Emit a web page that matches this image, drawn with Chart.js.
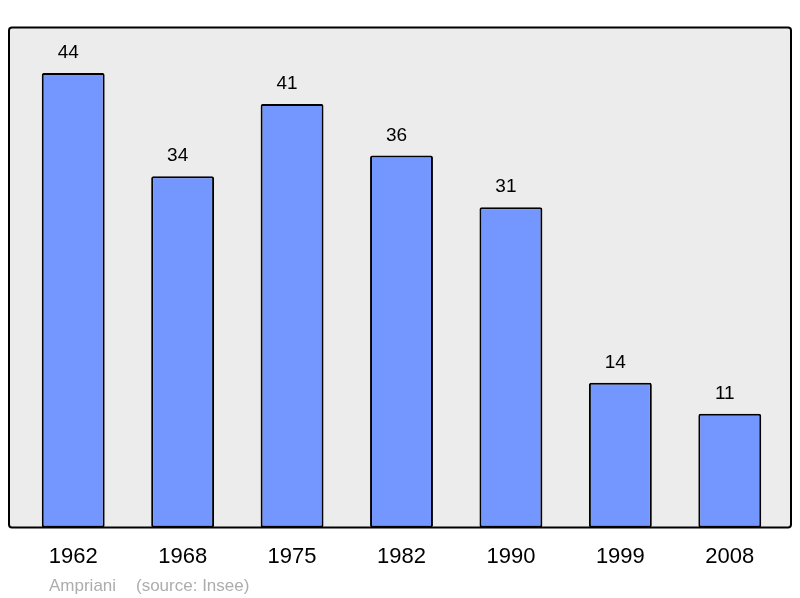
<!DOCTYPE html>
<html>
<head>
<meta charset="utf-8">
<script src="https://cdn.jsdelivr.net/npm/chart.js@4/dist/chart.umd.min.js"></script>
<style>
  html, body { margin: 0; padding: 0; background: #fff; }
  #wrap { width: 800px; height: 598px; position: relative; }
</style>
</head>
<body>
<div id="wrap"><canvas id="popChart"></canvas></div>
<script>
// population by census year
const years = ["1962", "1968", "1975", "1982", "1990", "1999", "2008"];
const population = [44, 34, 41, 36, 31, 14, 11];
const yMax = 48.4;

const fontFamily = "'Liberation Sans', Arial, sans-serif";

// grey frame behind the bars
const framePlugin = {
  id: "frame",
  beforeDraw(chart) {
    const { ctx, chartArea } = chart;
    const x0 = 9, x1 = 791;
    const y0 = chartArea.top, y1 = chartArea.bottom;
    ctx.save();
    ctx.beginPath();
    ctx.roundRect(x0, y0, x1 - x0, y1 - y0, 3);
    ctx.fillStyle = "#ececec";
    ctx.fill();
    ctx.restore();
  },
  afterDatasetsDraw(chart) {
    const { ctx, chartArea } = chart;
    const x0 = 9, x1 = 791;
    const y0 = chartArea.top, y1 = chartArea.bottom;
    ctx.save();
    ctx.beginPath();
    ctx.roundRect(x0, y0, x1 - x0, y1 - y0, 3);
    ctx.lineWidth = 2;
    ctx.strokeStyle = "#000";
    ctx.stroke();
    ctx.restore();
  }
};

// numbers above each bar + footer text
const labelsPlugin = {
  id: "valueLabels",
  afterDatasetsDraw(chart) {
    const { ctx } = chart;
    const meta = chart.getDatasetMeta(0);
    ctx.save();
    ctx.fillStyle = "#000";
    ctx.font = "19px " + fontFamily;
    ctx.textAlign = "center";
    ctx.textBaseline = "alphabetic";
    meta.data.forEach((bar, i) => {
      ctx.fillText(String(population[i]), bar.x - 5, bar.y - 15);
    });
    ctx.fillStyle = "#adadad";
    ctx.font = "17px " + fontFamily;
    ctx.textAlign = "left";
    ctx.fillText("Ampriani", 49, 591);
    ctx.fillText("(source: Insee)", 136, 591);
    ctx.restore();
  }
};

new Chart(document.getElementById("popChart"), {
  type: "bar",
  data: {
    labels: years,
    datasets: [{
      data: population,
      backgroundColor: "#7396ff",
      borderColor: "#000",
      borderWidth: 2,
      borderRadius: 2,
      borderSkipped: false,
      barPercentage: 0.575,
      categoryPercentage: 1
    }]
  },
  options: {
    responsive: true,
    maintainAspectRatio: false,
    animation: false,
    devicePixelRatio: 1,
    layout: { padding: { left: 18.5, right: 15.5, top: 27.5, bottom: 30.5 } },
    plugins: {
      legend: { display: false },
      tooltip: { enabled: false },
      title: { display: false }
    },
    scales: {
      x: {
        grid: { display: false, drawTicks: false },
        border: { display: false },
        ticks: {
          color: "#000",
          font: { family: fontFamily, size: 22 },
          padding: 16
        },
        afterFit(scale) { scale.height = 40; }
      },
      y: {
        display: false,
        min: 0,
        max: yMax
      }
    }
  },
  plugins: [framePlugin, labelsPlugin]
});
</script>
</body>
</html>
